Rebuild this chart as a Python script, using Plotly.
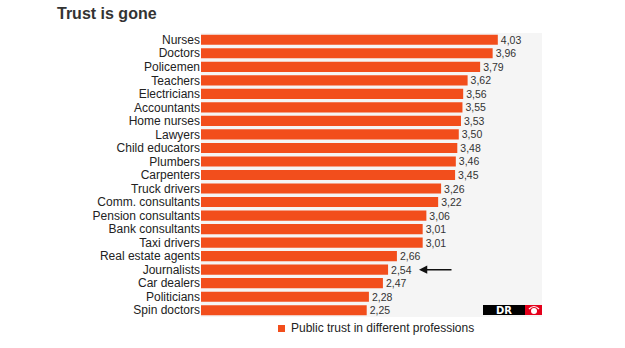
import plotly.graph_objects as go

categories = ["Nurses", "Doctors", "Policemen", "Teachers", "Electricians", "Accountants",
              "Home nurses", "Lawyers", "Child educators", "Plumbers", "Carpenters",
              "Truck drivers", "Comm. consultants", "Pension consultants", "Bank consultants",
              "Taxi drivers", "Real estate agents", "Journalists", "Car dealers",
              "Politicians", "Spin doctors"]
values = [4.03, 3.96, 3.79, 3.62, 3.56, 3.55, 3.53, 3.50, 3.48, 3.46, 3.45,
          3.26, 3.22, 3.06, 3.01, 3.01, 2.66, 2.54, 2.47, 2.28, 2.25]
series_name = "Public trust in different professions"
title_text = "Trust is gone"

BAR = "#f24e1c"
FONT = "Liberation Sans, Arial, sans-serif"
PH = 284.0  # plot height px
PW = 341.0  # plot width px

fig = go.Figure()
fig.add_trace(go.Bar(
    x=values, y=categories, orientation="h",
    marker=dict(color=BAR, line=dict(width=0)),
    texttemplate="%{x:.2f}", textposition="outside", cliponaxis=False,
    constraintext="none",
    textfont=dict(size=10.5, color="#333333", family=FONT),
    showlegend=False, name=series_name,
))

fig.add_annotation(x=2.96, y="Journalists", xref="x", yref="y", text="",
                   showarrow=True, ax=34, ay=0, arrowhead=2, arrowsize=1.1,
                   arrowwidth=1.5, arrowcolor="#111111")

fig.add_annotation(text="<b>" + title_text + "</b>", xref="paper", yref="paper",
                   x=(55 - 201) / PW, y=(317 - 14) / PH, xanchor="left", yanchor="middle",
                   showarrow=False, font=dict(size=16, color="#333333", family=FONT))

# manual legend
fig.add_shape(type="rect", xref="paper", yref="paper",
              x0=(278 - 201) / PW, x1=(285 - 201) / PW,
              y0=(317 - 332) / PH, y1=(317 - 325) / PH,
              fillcolor=BAR, line=dict(width=0))
fig.add_annotation(text=series_name, xref="paper", yref="paper",
                   x=(289 - 201) / PW, y=(317 - 328) / PH, xanchor="left", yanchor="middle",
                   showarrow=False, font=dict(size=12, color="#222222", family=FONT))

# DR logo
fig.add_shape(type="rect", xref="paper", yref="paper",
              x0=(483 - 201) / PW, x1=(525 - 201) / PW,
              y0=(317 - 315) / PH, y1=(317 - 305) / PH,
              fillcolor="#000000", line=dict(width=0), layer="above")
fig.add_shape(type="rect", xref="paper", yref="paper",
              x0=(525 - 201) / PW, x1=1.0,
              y0=(317 - 315) / PH, y1=(317 - 305) / PH,
              fillcolor="#e4001b", line=dict(width=0), layer="above")
fig.add_annotation(text="<b>DR</b>", xref="paper", yref="paper",
                   x=(504 - 201) / PW, y=(317 - 310) / PH, xanchor="center", yanchor="middle",
                   showarrow=False, font=dict(size=10, color="white", family="DejaVu Sans"))
fig.add_shape(type="circle", xref="paper", yref="paper",
              x0=(531 - 201) / PW, x1=(537 - 201) / PW,
              y0=(317 - 314) / PH, y1=(317 - 308) / PH,
              fillcolor="white", line=dict(width=0), layer="above")
fig.add_shape(type="path", xref="paper", yref="paper",
              path="M %.4f %.4f Q %.4f %.4f %.4f %.4f" % (
                  (529 - 201) / PW, (317 - 309) / PH,
                  (534 - 201) / PW, (317 - 304) / PH,
                  (539 - 201) / PW, (317 - 309) / PH),
              line=dict(color="white", width=1.2), layer="above")

fig.update_layout(
    width=625, height=348,
    margin=dict(l=201, r=83, t=33, b=31, autoexpand=False),
    paper_bgcolor="white", plot_bgcolor="#f5f5f5",
    separators=", ",
    bargap=0.25,
    showlegend=False,
    font=dict(family=FONT, size=12, color="#222222"),
    xaxis=dict(range=[0, 4.63], showgrid=False, zeroline=False, showticklabels=False,
               showline=False, fixedrange=True),
    yaxis=dict(autorange="reversed", showgrid=False, zeroline=False, showline=False,
               ticks="", tickmode="array", tickvals=categories, ticktext=categories,
               tickfont=dict(size=12, color="#222222", family=FONT)),
)

fig.write_html("out.html")
